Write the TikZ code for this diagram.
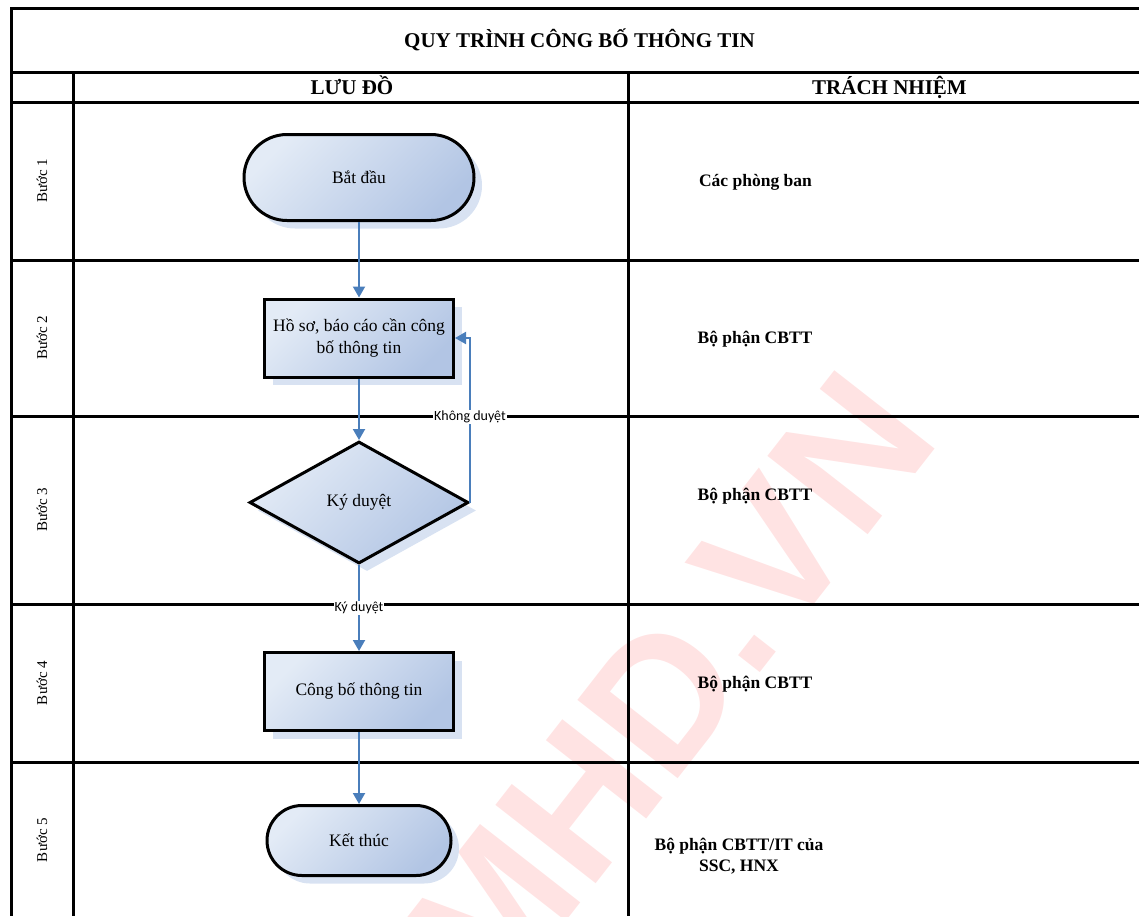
\documentclass[tikz,border=0pt]{standalone}
\usepackage{fontspec}
\setmainfont{Liberation Serif}
\newfontfamily\labelfont{Carlito}
\newfontfamily\markfont{Liberation Sans}
\usetikzlibrary{arrows.meta,shapes.geometric,shapes.misc,shadows}

\definecolor{flowlight}{HTML}{E3EBF6}
\definecolor{flowdark}{HTML}{B2C5E4}
\definecolor{shadowblue}{HTML}{D8E2F2}
\definecolor{linkblue}{HTML}{4A7EBB}
\definecolor{markred}{HTML}{FFE3E3}

\begin{document}
\begin{tikzpicture}[
  x=1pt,y=-1pt,
  every node/.style={font=\fontsize{17.5pt}{22pt}\selectfont},
  grid line/.style={line width=3pt,draw=black},
  head node/.style={anchor=base,font=\fontsize{21pt}{25pt}\selectfont\bfseries},
  step label/.style={rotate=90,font=\fontsize{15pt}{18pt}\selectfont},
  resp node/.style={align=center,font=\fontsize{17.5pt}{21pt}\selectfont\bfseries},
  flow shape/.style={draw=black,line width=3pt,top color=flowlight,bottom color=flowdark,shading angle=45,
    drop shadow={shadow xshift=8pt,shadow yshift=-8pt,fill=shadowblue,opacity=1},inner sep=2pt,align=center},
  term node/.style={flow shape,rounded rectangle},
  proc node/.style={flow shape,rectangle,minimum width=189pt,minimum height=78pt},
  decision node/.style={flow shape,diamond,minimum width=219pt,minimum height=122pt,inner sep=0pt},
  flow/.style={draw=linkblue,line width=2pt,-{Triangle[width=12pt,length=11pt]}},
  edge label/.style={fill=white,inner sep=1pt,text=black,font=\labelfont\fontsize{14pt}{16pt}\selectfont},
  watermark/.style={rotate=52,text=markred,font=\markfont\bfseries\fontsize{185pt}{185pt}\selectfont},
]
\useasboundingbox (0,0) rectangle (1139,916);
\clip (0,0) rectangle (1139,916);

% watermark behind everything
\node[watermark] (mark) at (668,688) {MHD.VN};

% table
\draw[grid line] (1139,8.5) -| (11,916);
\foreach \y in {72,102,260,416,604,762}
  \draw[grid line] (11,\y) -- (1139,\y);
\draw[grid line] (73.5,72) -- (73.5,916);
\draw[grid line] (628,72) -- (628,916);

\node[head node] (title) at (579.5,47) {QUY TRÌNH CÔNG BỐ THÔNG TIN};
\node[head node] (hflow) at (352,94) {LƯU ĐỒ};
\node[head node] (hresp) at (889.5,94) {TRÁCH NHIỆM};

\foreach \i/\y in {1/181,2/338,3/510,4/683,5/840}
  \node[step label] (step\i) at (42,\y) {Bước \i};

% flow chart
\node[term node,minimum width=234pt,minimum height=86pt] (start) at (359,177.5) {Bắt đầu};
\node[proc node] (dossier) at (359,338) {Hồ sơ, báo cáo cần công\\bố thông tin};
\node[decision node] (approve) at (359,502.5) {Ký duyệt};
\node[proc node] (publish) at (359,691.5) {Công bố thông tin};
\node[term node,minimum width=188pt,minimum height=70pt] (finish) at (359,840.5) {Kết thúc};

\draw[flow] (start) -- (dossier);
\draw[flow] (dossier) -- (approve);
\draw[flow] (approve) -- node[edge label] {Ký duyệt} (publish);
\draw[flow] (approve.east) |- node[edge label,pos=0.26] {Không duyệt} (dossier.east);
\draw[flow] (publish) -- (finish);

% responsibilities
\node[resp node] (resp1) at (755.5,182) {Các phòng ban};
\node[resp node] (resp2) at (755,339) {Bộ phận CBTT};
\node[resp node] (resp3) at (755,496) {Bộ phận CBTT};
\node[resp node] (resp4) at (755,684) {Bộ phận CBTT};
\node[resp node] (resp5) at (739,856) {Bộ phận CBTT/IT của\\SSC, HNX};
\end{tikzpicture}
\end{document}
